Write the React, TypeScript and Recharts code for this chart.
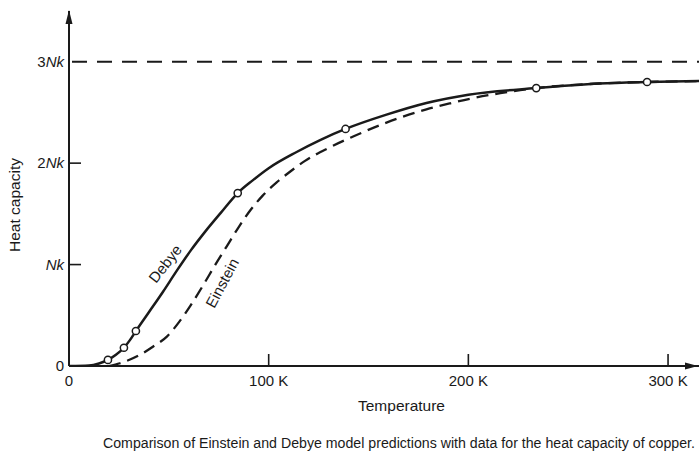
import React from 'react';
import {
  ComposedChart,
  Line,
  Scatter,
  XAxis,
  YAxis,
  ReferenceLine,
  ReferenceDot,
  Customized,
} from 'recharts';

// Debye model curve (temperature in K, heat capacity in units of Nk)
const debyeT = [0, 10, 15, 19.5, 23.5, 27.5, 30.5, 33.5, 40, 47, 54, 61, 68, 76, 84.5, 92, 100, 114, 126, 138.5, 159, 179, 200, 234, 265.5, 289.5, 316];
const debyeC = [0, 0.005, 0.025, 0.06, 0.11, 0.18, 0.255, 0.345, 0.53, 0.73, 0.94, 1.14, 1.32, 1.51, 1.705, 1.83, 1.95, 2.11, 2.23, 2.337, 2.478, 2.593, 2.675, 2.74, 2.785, 2.8, 2.81];

// Einstein model curve
const einT = [20, 25.5, 35.5, 42, 49, 55, 61, 67, 73, 79, 85, 91, 97, 104, 111, 118, 130, 142, 159, 179, 191, 201, 216, 226, 234, 265.5, 289.5, 316];
const einC = [0, 0.027, 0.11, 0.19, 0.29, 0.43, 0.6, 0.79, 0.99, 1.18, 1.37, 1.54, 1.68, 1.81, 1.92, 2.02, 2.15, 2.26, 2.4, 2.53, 2.59, 2.635, 2.69, 2.72, 2.74, 2.785, 2.8, 2.81];

// Measured data for copper
const dataT = [19.5, 27.5, 33.5, 84.5, 138.5, 234, 289.5];
const dataC = [0.06, 0.18, 0.345, 1.705, 2.337, 2.74, 2.8];

// Axis ticks
const xTicks = [0, 100, 200, 300];
const xTickLabels = ['0', '100 K', '200 K', '300 K'];
const yTicks = [0, 1, 2, 3];
const yTickNums = ['0', '', '2', '3'];
const yTickItalic = ['', 'Nk', 'Nk', 'Nk'];
const classicalLimit = 3;

const debyeData = debyeT.map((t, i) => ({ t, c: debyeC[i] }));
const einData = einT.map((t, i) => ({ t, c: einC[i] }));
const pointData = dataT.map((t, i) => ({ t, c: dataC[i] }));

const FONT = '"Liberation Sans", Arial, sans-serif';
const INK = '#1a1a1a';

const XTick = (props: any) => {
  const { x, y, payload } = props;
  const idx = xTicks.indexOf(payload.value);
  return (
    <g>
      {payload.value > 0 && (
        <line x1={x} x2={x} y1={y} y2={y - 12} stroke={INK} strokeWidth={1.6} />
      )}
      <text x={x} y={y + 20} textAnchor="middle" fontFamily={FONT} fontSize={15} fill={INK}>
        {xTickLabels[idx]}
      </text>
    </g>
  );
};

const YTick = (props: any) => {
  const { x, y, payload } = props;
  const idx = yTicks.indexOf(payload.value);
  return (
    <g>
      {(payload.value === 1 || payload.value === 2) && (
        <line x1={x} x2={x + 12} y1={y} y2={y} stroke={INK} strokeWidth={1.6} />
      )}
      <text x={x - 5} y={y + 5} textAnchor="end" fontFamily={FONT} fontSize={15} fill={INK}>
        {yTickNums[idx]}
        {yTickItalic[idx] && <tspan fontStyle="italic">{yTickItalic[idx]}</tspan>}
      </text>
    </g>
  );
};

const Dot = (props: any) => {
  const { cx, cy } = props;
  return <circle cx={cx} cy={cy} r={3.6} fill="#fff" stroke={INK} strokeWidth={1.5} />;
};

const UpArrow = (props: any) => {
  const { cx, cy } = props;
  return <path d={`M${cx},${cy - 1} L${cx - 3.5},${cy + 13} L${cx + 3.5},${cy + 13} Z`} fill={INK} />;
};

const RightArrow = (props: any) => {
  const { cx, cy } = props;
  return <path d={`M${cx - 1},${cy} L${cx - 14},${cy - 3.5} L${cx - 14},${cy + 3.5} Z`} fill={INK} />;
};

const makeLabel = (text: string, angle: number) => (props: any) => {
  const { cx, cy } = props;
  return (
    <text
      x={cx}
      y={cy}
      transform={`rotate(${angle} ${cx} ${cy})`}
      textAnchor="middle"
      dominantBaseline="central"
      fontFamily={FONT}
      fontSize={15}
      fill={INK}
    >
      {text}
    </text>
  );
};

const Texts = () => (
  <g>
    <text
      x={15}
      y={205}
      transform="rotate(-90 15 205)"
      textAnchor="middle"
      dominantBaseline="central"
      fontFamily={FONT}
      fontSize={14}
      fill={INK}
      textLength={94}
      lengthAdjust="spacingAndGlyphs"
    >
      Heat capacity
    </text>
    <text
      x={358}
      y={411}
      fontFamily={FONT}
      fontSize={15}
      fill={INK}
      textLength={87}
      lengthAdjust="spacingAndGlyphs"
    >
      Temperature
    </text>
    <text
      x={103}
      y={448}
      fontFamily={FONT}
      fontSize={14}
      fill={INK}
      textLength={592}
      lengthAdjust="spacingAndGlyphs"
    >
      Comparison of Einstein and Debye model predictions with data for the heat capacity of copper.
    </text>
  </g>
);

export default function App() {
  return (
    <div style={{ position: 'absolute', left: 0, top: 0, width: 699, height: 457, background: '#fff' }}>
      <ComposedChart width={699} height={457} margin={{ top: 11, right: 0, bottom: 0, left: 0 }}>
        <XAxis
          type="number"
          dataKey="t"
          domain={[0, 315.5]}
          allowDataOverflow
          ticks={xTicks}
          tick={<XTick />}
          tickLine={false}
          tickSize={0}
          tickMargin={0}
          height={91}
          axisLine={{ stroke: INK, strokeWidth: 2 }}
        />
        <YAxis
          type="number"
          dataKey="c"
          domain={[0, 3.5]}
          allowDataOverflow
          ticks={yTicks}
          tick={<YTick />}
          tickLine={false}
          tickSize={0}
          tickMargin={0}
          width={69}
          axisLine={{ stroke: INK, strokeWidth: 2 }}
        />
        <ReferenceLine
          y={classicalLimit}
          stroke={INK}
          strokeWidth={2}
          strokeDasharray="0 3 15 7"
        />
        <Line
          data={einData}
          dataKey="c"
          type="monotone"
          stroke={INK}
          strokeWidth={2.3}
          strokeDasharray="12 7"
          dot={false}
          isAnimationActive={false}
        />
        <Line
          data={debyeData}
          dataKey="c"
          type="monotone"
          stroke={INK}
          strokeWidth={2.5}
          dot={false}
          isAnimationActive={false}
        />
        <Scatter data={pointData} dataKey="c" shape={<Dot />} isAnimationActive={false} />
        <ReferenceDot x={0} y={3.5} r={0} ifOverflow="visible" shape={<UpArrow />} />
        <ReferenceDot x={315.5} y={0} r={0} ifOverflow="visible" shape={<RightArrow />} />
        <ReferenceDot x={48.1} y={1.01} r={0} ifOverflow="visible" shape={makeLabel('Debye', -52)} />
        <ReferenceDot x={76.6} y={0.82} r={0} ifOverflow="visible" shape={makeLabel('Einstein', -62)} />
        <Customized component={<Texts />} />
      </ComposedChart>
    </div>
  );
}
